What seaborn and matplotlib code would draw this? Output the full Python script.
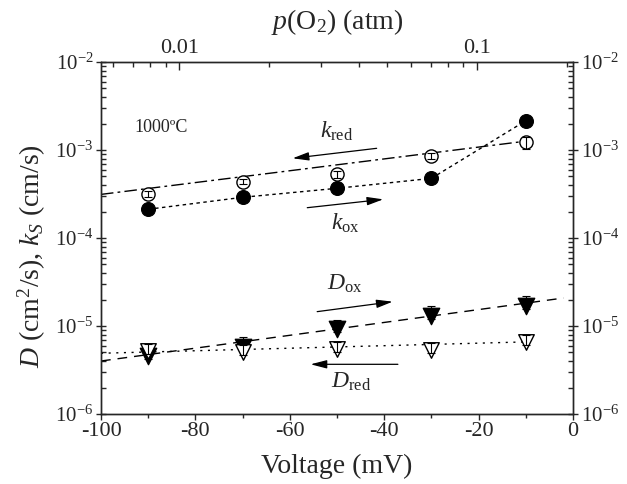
import numpy as np
import matplotlib
matplotlib.use('Agg')
import matplotlib.pyplot as plt
import matplotlib.ticker as mticker
import seaborn as sns

# === Data ===
voltage = [-90, -70, -50, -30, -10]  # mV

k_ox = [2.12e-4, 2.9e-4, 3.67e-4, 4.76e-4, 2.15e-3]
k_red = [3.16e-4, 4.36e-4, 5.33e-4, 8.55e-4, 1.22e-3]
k_red_err = [2.5e-5, 3.0e-5, 5.0e-5, 6.0e-5, 1.8e-4]

D_ox = [4.58e-6, 5.82e-6, 9.25e-6, 1.31e-5, 1.69e-5]
D_ox_err_lo = [4.0e-7, 5.0e-7, 8.0e-7, 1.1e-6, 1.4e-6]
D_ox_err_hi = [1.3e-6, 1.6e-6, 2.6e-6, 3.7e-6, 4.8e-6]

D_red = [5.2e-6, 5.1e-6, 5.52e-6, 5.33e-6, 6.64e-6]
D_red_err_lo = [4.0e-7, 4.0e-7, 4.0e-7, 4.0e-7, 5.0e-7]
D_red_err_hi = [1.0e-6, 1.0e-6, 1.1e-6, 1.1e-6, 1.3e-6]

# guide lines (end points of the fits)
k_red_fit_v = [-100, -10]
k_red_fit = [3.13e-4, 1.26e-3]
D_ox_fit_v = [-100, -2]
D_ox_fit = [4.0e-6, 2.08e-5]
D_red_fit_v = [-100, -8]
D_red_fit = [4.9e-6, 6.64e-6]

# Nernst relation at 1000 C: p(O2) = 0.21 * 10^(V / 63.1 mV)
p_air = 0.21
mv_per_decade = 63.1


def v_to_p(v):
    return p_air * 10 ** (v / mv_per_decade)


# === Style ===
sns.set_theme(style='ticks')
plt.rcParams['font.family'] = ['Liberation Serif', 'DejaVu Serif']
plt.rcParams['mathtext.fontset'] = 'custom'
plt.rcParams['mathtext.rm'] = 'Liberation Serif'
plt.rcParams['mathtext.it'] = 'Liberation Serif:italic'
plt.rcParams['mathtext.bf'] = 'Liberation Serif:bold'
plt.rcParams['axes.unicode_minus'] = False
plt.rcParams['axes.linewidth'] = 1.0

fig = plt.figure(figsize=(6.27, 4.84), dpi=100)
ax = fig.add_axes([101 / 627, 70 / 484, 472 / 627, 352 / 484])
ax.set_yscale('log')

# lines
sns.lineplot(x=k_red_fit_v, y=k_red_fit, ax=ax, color='black', lw=1,
             linestyle=(0, (9, 3, 2, 3)), legend=False)
sns.lineplot(x=voltage, y=k_ox, ax=ax, color='black', lw=1,
             linestyle=(0, (2.5, 2.5)), legend=False)
sns.lineplot(x=D_ox_fit_v, y=D_ox_fit, ax=ax, color='black', lw=1,
             linestyle=(0, (7, 5)), legend=False)
sns.lineplot(x=D_red_fit_v, y=D_red_fit, ax=ax, color='black', lw=1,
             linestyle=(0, (1.5, 4)), legend=False)

# markers
sns.scatterplot(x=voltage, y=k_ox, ax=ax, marker='o', s=100, color='black',
                edgecolor='black', zorder=3, legend=False)
sns.scatterplot(x=voltage, y=k_red, ax=ax, marker='o', s=90, color='white',
                edgecolor='black', linewidth=1, zorder=3, legend=False)
sns.scatterplot(x=voltage, y=D_ox, ax=ax, marker='v', s=140, color='black',
                edgecolor='black', zorder=3, legend=False)
sns.scatterplot(x=voltage, y=D_red, ax=ax, marker='v', s=125, color='white',
                edgecolor='black', linewidth=1, zorder=3, legend=False)

# error bars
ax.errorbar(voltage, k_red, yerr=k_red_err, fmt='none', ecolor='black',
            elinewidth=0.8, capsize=3, capthick=0.8, zorder=4)
ax.errorbar(voltage, D_ox, yerr=[D_ox_err_lo, D_ox_err_hi], fmt='none',
            ecolor='black', elinewidth=0.8, capsize=3, capthick=0.8, zorder=2)
ax.errorbar(voltage, D_red, yerr=[D_red_err_lo, D_red_err_hi], fmt='none',
            ecolor='black', elinewidth=0.8, capsize=3, capthick=0.8, zorder=4)

# annotations
arrow = dict(arrowstyle='-|>,head_length=0.7,head_width=0.18', color='black',
             lw=0.9, mutation_scale=14, shrinkA=0, shrinkB=0)
ax.annotate('', xy=(-59.4, 8.05e-4), xytext=(-41.6, 1.045e-3), arrowprops=arrow)
ax.annotate('', xy=(-40.2, 2.75e-4), xytext=(-56.3, 2.21e-4), arrowprops=arrow)
ax.annotate('', xy=(-38.2, 1.89e-5), xytext=(-54.2, 1.456e-5), arrowprops=arrow)
ax.annotate('', xy=(-55.6, 3.67e-6), xytext=(-37.1, 3.67e-6), arrowprops=arrow)

ax.text(-50.1, 1.61e-3, r'$k_\mathrm{red}$', fontsize=17, ha='center', va='center')
ax.text(-48.3, 1.47e-4, r'$k_\mathrm{ox}$', fontsize=17, ha='center', va='center')
ax.text(-48.3, 3.05e-5, r'$D_\mathrm{ox}$', fontsize=17, ha='center', va='center')
ax.text(-47.1, 2.33e-6, r'$D_\mathrm{red}$', fontsize=17, ha='center', va='center')
ax.text(-93, 1.78e-3, '1000ºC', fontsize=13, ha='left', va='center')

# bottom / left / right axes
ax.set_xlim(-100, 0)
ax.set_ylim(1e-6, 1e-2)
ax.xaxis.set_major_locator(mticker.MultipleLocator(20))
ax.xaxis.set_minor_locator(mticker.MultipleLocator(10))
ax.yaxis.set_major_locator(mticker.LogLocator(base=10))
ax.yaxis.set_minor_locator(mticker.LogLocator(base=10, subs=np.arange(2, 10)))
ax.yaxis.set_minor_formatter(mticker.NullFormatter())
ax.tick_params(axis='x', which='both', direction='out', top=False, labelsize=16,
               pad=2, width=1)
ax.tick_params(axis='x', which='major', length=4)
ax.tick_params(axis='x', which='minor', length=3)
ax.tick_params(axis='y', which='both', left=True, right=True, labelleft=True,
               labelright=True, labelsize=15, width=1, pad=2)
ax.tick_params(axis='y', which='major', direction='inout', length=7)
ax.tick_params(axis='y', which='minor', direction='in', length=3.5)

ax.set_xlabel('Voltage (mV)', fontsize=20, labelpad=9)
ax.set_ylabel(r'$D$ (cm$^2$/s), $k_S$ (cm/s)', fontsize=20)
ax.yaxis.set_label_coords(-0.112, 0.449)

# top axis: oxygen partial pressure
ax2 = ax.twiny()
ax2.set_xscale('log')
ax2.set_xlim(v_to_p(-100), v_to_p(0))
ax2.xaxis.set_major_locator(mticker.LogLocator(base=10))
ax2.xaxis.set_minor_locator(mticker.LogLocator(base=10, subs=np.arange(2, 10)))
ax2.xaxis.set_major_formatter(mticker.FuncFormatter(lambda p, _: f'{p:g}'))
ax2.xaxis.set_minor_formatter(mticker.NullFormatter())
ax2.tick_params(axis='x', which='both', direction='in', labelsize=16, pad=3, width=1)
ax2.tick_params(axis='x', which='major', length=6)
ax2.tick_params(axis='x', which='minor', length=3.5)
ax2.set_xlabel(r'$p$(O$_2$) (atm)', fontsize=20, labelpad=7)

fig.savefig('out.png', dpi=100)
